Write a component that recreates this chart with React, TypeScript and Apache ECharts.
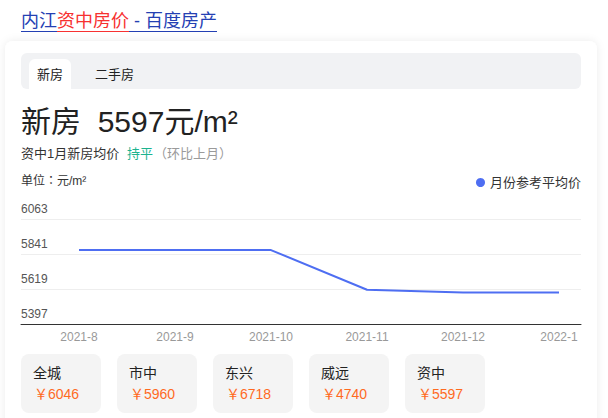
import React, { useEffect, useRef } from "react";
import * as echarts from "echarts";

const months = ["2021-8", "2021-9", "2021-10", "2021-11", "2021-12", "2022-1"];
const avgPrice = [5866, 5866, 5866, 5614, 5597, 5597];
const yMin = 5397;
const yMax = 6063;
const yStep = 222;
const regions = ["全城", "市中", "东兴", "威远", "资中"];
const regionPrices = [6046, 5960, 6718, 4740, 5597];
const seriesName = "月份参考平均价";

const FONT = "'Liberation Sans', Arial, 'Noto Sans CJK SC', sans-serif";
const FONT_TC = "'Liberation Sans', Arial, 'Noto Sans CJK TC', sans-serif";

export default function App() {
  const ref = useRef<HTMLDivElement>(null);
  useEffect(() => {
    if (!ref.current) return;
    const chart = echarts.init(ref.current, undefined, { renderer: "svg" });

    const regionCards: any[] = [];
    regions.forEach((name, i) => {
      const x0 = 21 + i * 96;
      regionCards.push({
        type: "rect",
        shape: { x: x0, y: 354, width: 80, height: 59, r: 8 },
        style: { fill: "#f4f4f4" },
      });
      regionCards.push({
        type: "text",
        x: x0 + 12,
        y: 373,
        style: { text: name, fill: "#222", font: `14px ${FONT}`, verticalAlign: "middle" },
      });
      regionCards.push({
        type: "text",
        x: x0 + 13,
        y: 394,
        style: { text: "￥" + regionPrices[i], fill: "#ff6a1f", font: `14px ${FONT}`, verticalAlign: "middle" },
      });
    });

    chart.setOption({
      animation: false,
      textStyle: { fontFamily: FONT },
      legend: {
        data: [seriesName],
        right: 27,
        top: 176,
        padding: 0,
        icon: "circle",
        itemWidth: 9,
        itemHeight: 9,
        itemGap: 6,
        textStyle: { fontSize: 13, color: "#333", fontFamily: FONT },
      },
      grid: [
        { left: 21, right: 27, top: 219, height: 105 },
        { left: 79, right: 49, top: 219, height: 105 },
      ],
      xAxis: [
        {
          gridIndex: 0,
          type: "value",
          min: 0,
          max: 1,
          axisLine: { show: true, onZero: false, lineStyle: { color: "#333", width: 1 } },
          axisTick: { show: false },
          axisLabel: { show: false },
          splitLine: { show: false },
        },
        {
          gridIndex: 1,
          type: "category",
          data: months,
          boundaryGap: false,
          axisLine: { show: false },
          axisTick: { show: false },
          axisLabel: { color: "#999", fontSize: 12, margin: 7, fontFamily: FONT },
          splitLine: { show: false },
        },
      ],
      yAxis: [
        {
          gridIndex: 0,
          type: "value",
          min: yMin,
          max: yMax,
          interval: yStep,
          axisLine: { show: false },
          axisTick: { show: false },
          axisLabel: {
            inside: true,
            margin: 0,
            color: "#555",
            fontSize: 12,
            verticalAlign: "bottom",
            padding: [0, 0, 4, 0],
            fontFamily: FONT,
            formatter: (v: number) => String(Math.round(v)),
          },
          splitLine: { lineStyle: { color: "#eeeeee", width: 1 } },
        },
        {
          gridIndex: 1,
          type: "value",
          min: yMin,
          max: yMax,
          show: false,
          splitLine: { show: false },
        },
      ],
      series: [
        {
          name: seriesName,
          type: "line",
          xAxisIndex: 1,
          yAxisIndex: 1,
          data: avgPrice,
          showSymbol: false,
          symbol: "circle",
          itemStyle: { color: "#4e6ef2" },
          lineStyle: { color: "#4e6ef2", width: 2 },
        },
      ],
      graphic: [
        {
          type: "rect",
          z: -10,
          shape: { x: 5, y: 41, width: 592, height: 420, r: 8 },
          style: { fill: "#fff", shadowBlur: 8, shadowColor: "rgba(0,0,0,0.08)" },
        },
        {
          type: "text",
          x: 21,
          y: 21,
          style: {
            text: "{b|内江}{r|资中房价}{b| - 百度房产}",
            verticalAlign: "middle",
            rich: {
              b: { fill: "#2440b3", fontSize: 18, fontFamily: FONT },
              r: { fill: "#f73131", fontSize: 18, fontFamily: FONT },
            },
          },
        },
        {
          type: "line",
          shape: { x1: 21, y1: 31.5, x2: 57, y2: 31.5 },
          style: { stroke: "#2440b3", lineWidth: 1 },
        },
        {
          type: "line",
          shape: { x1: 57, y1: 31.5, x2: 129, y2: 31.5 },
          style: { stroke: "#f73131", lineWidth: 1 },
        },
        {
          type: "line",
          shape: { x1: 129, y1: 31.5, x2: 217, y2: 31.5 },
          style: { stroke: "#2440b3", lineWidth: 1 },
        },
        {
          type: "rect",
          shape: { x: 21, y: 53, width: 560, height: 36, r: 6 },
          style: { fill: "#f1f2f4" },
        },
        {
          type: "rect",
          shape: { x: 29, y: 59, width: 42, height: 30, r: [6, 6, 0, 0] },
          style: { fill: "#fff" },
        },
        {
          type: "text",
          x: 37,
          y: 74,
          style: { text: "新房", fill: "#222", font: `13px ${FONT}`, verticalAlign: "middle" },
        },
        {
          type: "text",
          x: 95,
          y: 74,
          style: { text: "二手房", fill: "#222", font: `13px ${FONT}`, verticalAlign: "middle" },
        },
        {
          type: "text",
          x: 21,
          y: 121,
          style: { text: "新房  5597元/m²", fill: "#222", font: `30px ${FONT}`, verticalAlign: "middle" },
        },
        {
          type: "text",
          x: 21,
          y: 153,
          style: { text: "资中1月新房均价", fill: "#333", font: `13px ${FONT}`, verticalAlign: "middle" },
        },
        {
          type: "text",
          x: 127,
          y: 153,
          style: { text: "持平", fill: "#1cb38f", font: `13px ${FONT}`, verticalAlign: "middle" },
        },
        {
          type: "text",
          x: 154,
          y: 153,
          style: {
            text: "{p|（}{a|环比上月}{p|）}",
            verticalAlign: "middle",
            rich: {
              a: { fill: "#9a9a9a", fontSize: 13, fontFamily: FONT },
              p: { fill: "#9a9a9a", fontSize: 13, fontFamily: FONT_TC },
            },
          },
        },
        {
          type: "text",
          x: 21,
          y: 181,
          style: {
            text: "{a|单位}{c|：}{a|元/m²}",
            verticalAlign: "middle",
            rich: {
              a: { fill: "#333", fontSize: 12, fontFamily: FONT },
              c: { fill: "#333", fontSize: 12, fontFamily: FONT_TC },
            },
          },
        },
        ...regionCards,
      ],
    });
    return () => chart.dispose();
  }, []);
  return (
    <div
      ref={ref}
      style={{ position: "fixed", left: 0, top: 0, width: 608, height: 418, background: "#fff" }}
    />
  );
}
